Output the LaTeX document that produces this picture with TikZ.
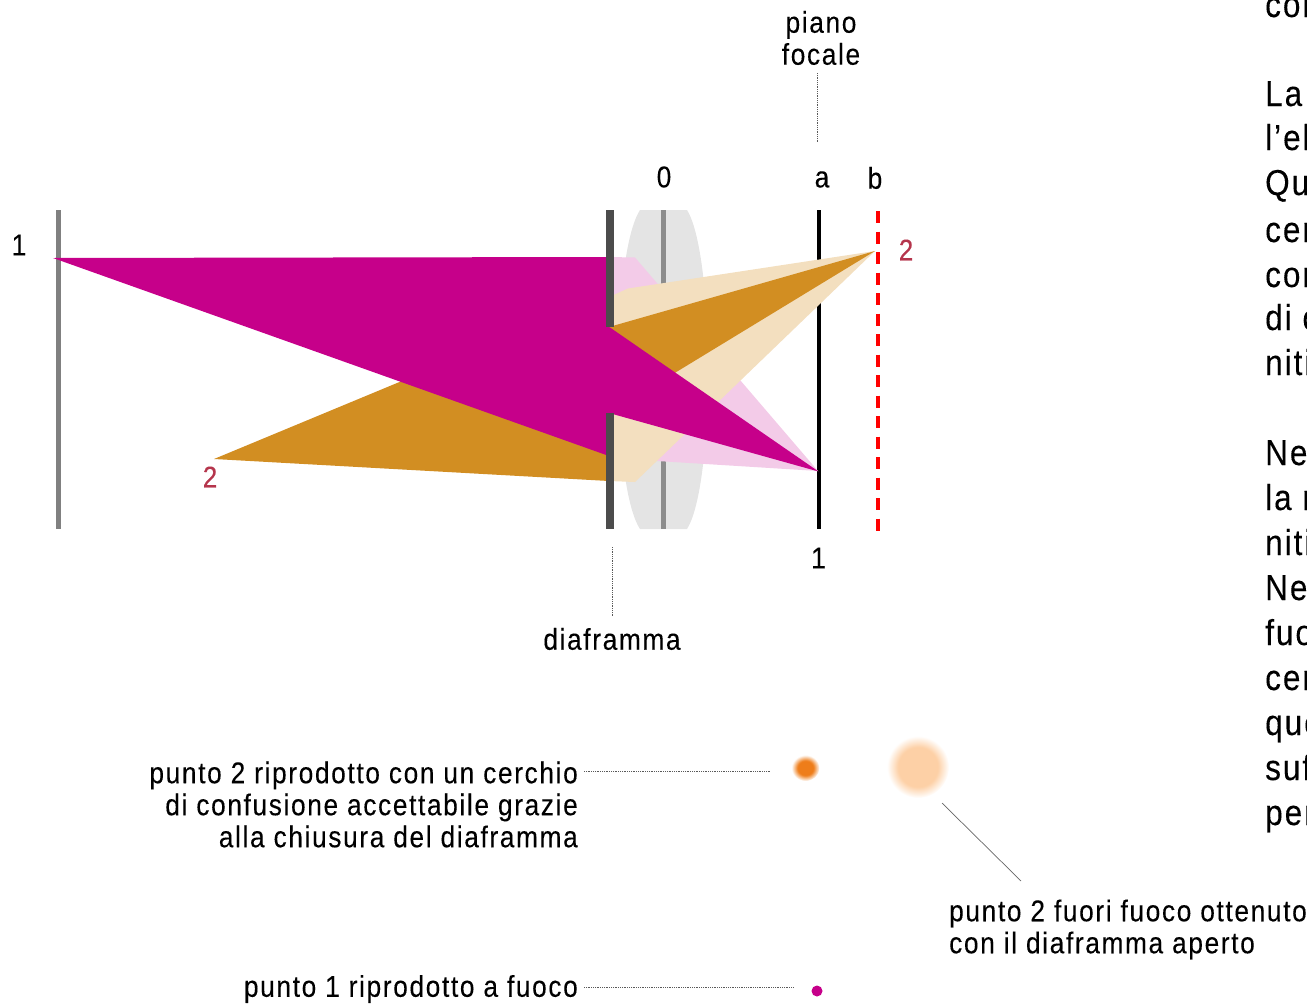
\documentclass[tikz,border=0pt]{standalone}
\usepackage{fontspec}
\usepackage{xcolor}
\setmainfont{Liberation Sans}[FakeStretch=0.875,LetterSpace=5.5,FakeBold=0.15]
\definecolor{magentaray}{HTML}{C6008A}
\definecolor{pinkray}{HTML}{F3CBE8}
\definecolor{ochreray}{HTML}{D28E22}
\definecolor{beigeray}{HTML}{F3DFBF}
\definecolor{lensgray}{HTML}{E4E4E4}
\definecolor{labelred}{HTML}{B5354C}
\definecolor{spotsmall}{HTML}{EE7D1A}
\definecolor{spotlarge}{HTML}{FDD0A6}
\pgfdeclareradialshading{softsmall}{\pgfpointorigin}{color(0bp)=(spotsmall);color(14bp)=(spotsmall);color(25bp)=(white);color(50bp)=(white)}
\pgfdeclareradialshading{softlarge}{\pgfpointorigin}{color(0bp)=(spotlarge);color(16bp)=(spotlarge);color(25bp)=(white);color(50bp)=(white)}
\tikzset{
  lbl/.style={inner sep=0pt,font=\fontsize{30}{32}\selectfont},
  bodytext/.style={inner sep=0pt,anchor=base west,font=\fontsize{36}{45}\selectfont},
  leader/.style={gray!70!black,line width=0.8pt,densely dotted},
}
\begin{document}
\begin{tikzpicture}[x=1pt,y=-1pt]
\useasboundingbox (0,0) rectangle (1307,1004);
\clip (0,0) rectangle (1307,1004);
% lens and planes
\fill[lensgray] (640,210) .. controls (611,255) and (611,485) .. (640,529) -- (687,529) .. controls (715,485) and (715,255) .. (687,210) -- cycle;
\draw[gray!90,line width=5pt] (663,210) -- (663,529);
\draw[gray,line width=5pt] (58.5,210) -- (58.5,529);
\draw[black,line width=4pt] (819,210) -- (819,529);
\draw[red,line width=4pt,dash pattern=on 12pt off 8.5pt] (878,211) -- (878,532);
% rays
\fill[pinkray] (609,257) -- (635,257.5) -- (818,471) -- (609,458) -- cycle;
\fill[beigeray] (609,297) -- (628,288.5) -- (875,251) -- (635,482) -- (609,481) -- cycle;
\fill[ochreray] (214,459) -- (609,295) -- (609,481) -- cycle;
\fill[ochreray] (609,327) -- (875,251) -- (609,413) -- cycle;
\fill[magentaray] (53,258) -- (609,257) -- (609,327) -- (610,327.5) -- (818.5,471.5) -- (609,413) -- (609,456) -- cycle;
% diaphragm blades
\fill[black!70] (605.5,210) rectangle (613.5,327);
\fill[black!70] (605.5,413) rectangle (613.5,529);
% labels
\node[lbl] (obj1) at (19,245) {1};
\node[lbl,labelred] (img2) at (906,250) {2};
\node[lbl,labelred] (obj2) at (210,477) {2};
\node[lbl] (zero) at (664,177) {0};
\node[lbl] (plna) at (822,179.5) {a};
\node[lbl] (plnb) at (875,178) {b};
\node[lbl] (img1) at (818.5,558) {1};
\node[lbl,align=center] (focal) at (821,38) {piano\\focale};
\node[lbl] (diaf) at (612,639) {diaframma};
\node[lbl,align=right,anchor=east] (closed) at (578,804.5) {punto 2 riprodotto con un cerchio\\di confusione accettabile grazie\\alla chiusura del diaframma};
\node[lbl,anchor=east] (sharp) at (578,989) {punto 1 riprodotto a fuoco};
\node[lbl,align=left,anchor=west] (open) at (949,929.5) {punto 2 fuori fuoco ottenuto\\con il diaframma aperto};
% spots
\shade[shading=softsmall] (805.5,768) circle[x radius=14,y radius=13];
\shade[shading=softlarge] (918,767) circle[radius=31];
\fill[magentaray] (817,991) circle[radius=5.5];
\coordinate (spotA) at (771,771);
\coordinate (spotB) at (942,803);
\coordinate (spotC) at (793,987);
\coordinate (planeA) at (817,143);
\coordinate (bladeB) at (612,547);
\coordinate (closedR) at (584,771);
\coordinate (sharpR) at (584,987);
\coordinate (openT) at (1021,881);
\coordinate (focalB) at (817,73);
\coordinate (diafT) at (612,616);
% leaders
\draw[leader] (focalB) -- (planeA);
\draw[leader] (bladeB) -- (diafT);
\draw[leader] (closedR) -- (spotA);
\draw[leader] (sharpR) -- (spotC);
\draw[gray!80!black,line width=0.7pt] (spotB) -- (openT);
% text column
\node[bodytext] (col1) at (1265,17) {con};
\node[bodytext] (col2) at (1265,106) {La};
\node[bodytext] (col3) at (1265,150) {l’el};
\node[bodytext] (col4) at (1265,195) {Qu};
\node[bodytext] (col5) at (1265,242) {cer};
\node[bodytext] (col6) at (1265,287) {con};
\node[bodytext] (col7) at (1265,330) {di c};
\node[bodytext] (col8) at (1265,375) {niti};
\node[bodytext] (col9) at (1265,465) {Ne};
\node[bodytext] (col10) at (1265,510) {la r};
\node[bodytext] (col11) at (1265,555) {niti};
\node[bodytext] (col12) at (1265,600) {Ne};
\node[bodytext] (col13) at (1265,645) {fuo};
\node[bodytext] (col14) at (1265,690) {cer};
\node[bodytext] (col15) at (1265,735) {que};
\node[bodytext] (col16) at (1265,780) {suf};
\node[bodytext] (col17) at (1265,825) {per};
\end{tikzpicture}
\end{document}
